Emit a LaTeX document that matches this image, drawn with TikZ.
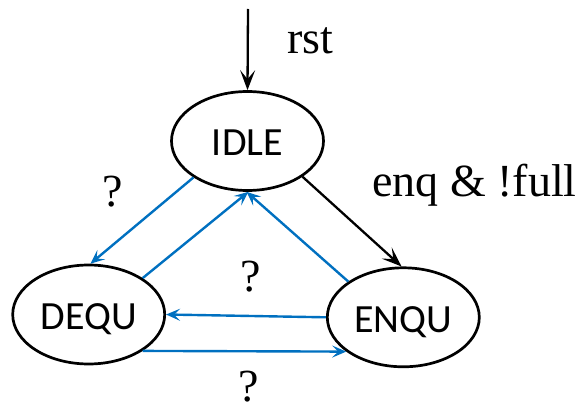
\documentclass[tikz,border=0pt]{standalone}
\usepackage{fontspec}
\setmainfont{Liberation Serif}
\newfontfamily\statefont{Carlito}
\usetikzlibrary{arrows.meta,shapes.geometric}
\definecolor{flowblue}{RGB}{0,112,192}

\begin{document}
\begin{tikzpicture}[x=1pt,y=-1pt,
  state/.style={ellipse, draw, line width=2.7pt, minimum width=152pt,
    minimum height=99pt, inner sep=0pt,
    font=\statefont\fontsize{40}{40}\selectfont,
    text height=30pt, text depth=0pt},
  lbl/.style={inner sep=0pt, font=\fontsize{46}{46}\selectfont},
  ctrl/.style={line width=2.3pt, -{Stealth[length=20pt,width=15pt,inset=9pt]}},
  cond/.style={flowblue, line width=2.4pt, -{Stealth[length=14pt,width=12pt,inset=6pt]}}
]
\useasboundingbox (0,0) rectangle (584,406);

% states
\node[state] (IDLE) at (247.5,141) {IDLE};
\node[state] (DEQU) at (88.7,314.5) {DEQU};
\node[state] (ENQU) at (403.3,317.3) {ENQU};

% transition labels
\node[lbl, anchor=base west] (rstlbl) at (287,54) {rst};
\node[lbl, anchor=base west] (enqlbl) at (372,197) {enq \& !full};
\node[lbl, anchor=base] (q1) at (113,207) {?};
\node[lbl, anchor=base] (q2) at (251,291.5) {?};
\node[lbl, anchor=base] (q3) at (248.5,401.5) {?};

% reset entry and main transition
\coordinate (rsttop) at (248,9);
\draw[ctrl] (rsttop) -- (IDLE.90);
\draw[ctrl] (IDLE.327) -- (ENQU.92);

% undetermined transitions
\draw[cond] (IDLE.214) -- (DEQU.88);
\draw[cond] (DEQU.34) -- (IDLE.271);
\draw[cond] (ENQU.147) -- (IDLE.269);
\draw[cond] (ENQU.180) -- (DEQU.0);
\draw[cond] (DEQU.326) -- (ENQU.211);
\end{tikzpicture}
\end{document}
